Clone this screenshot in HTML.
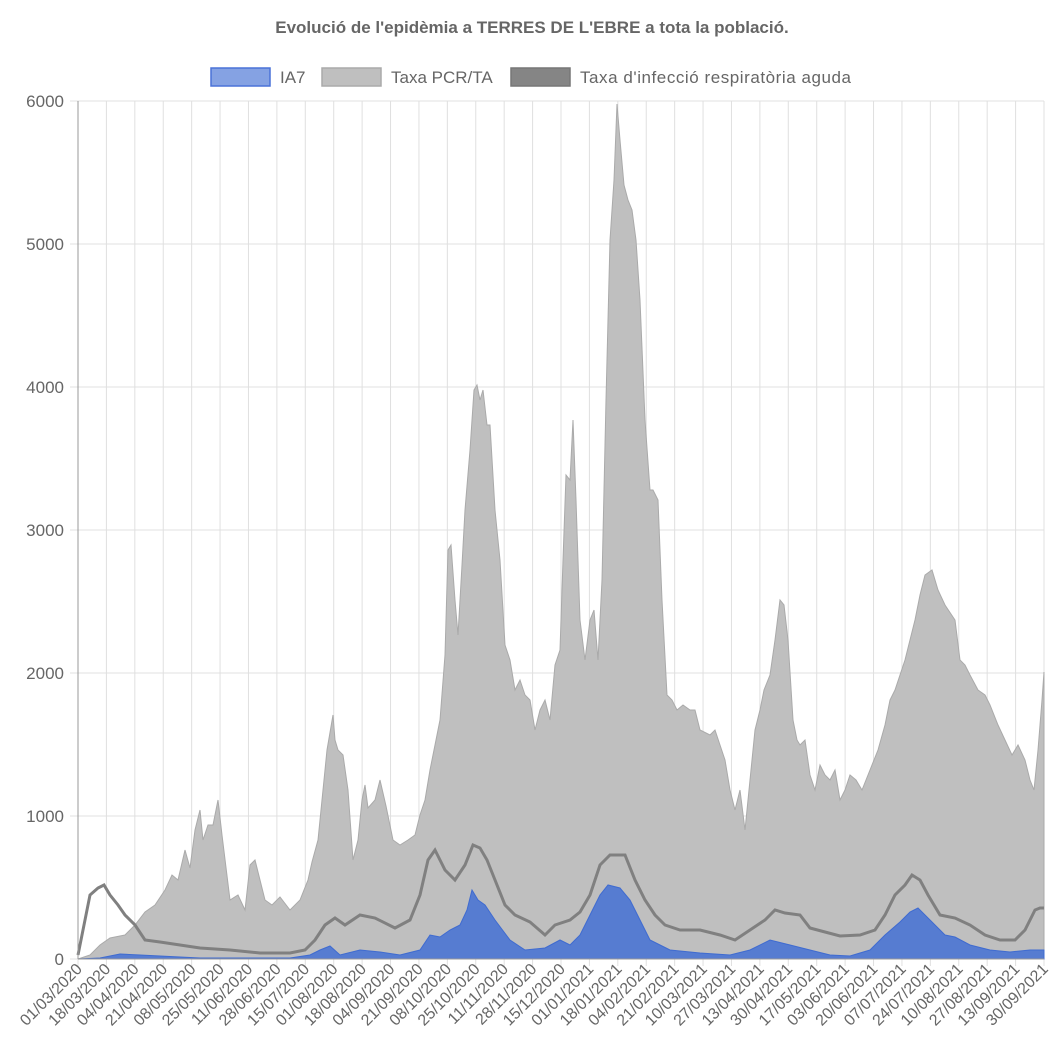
<!DOCTYPE html>
<html><head><meta charset="utf-8"><style>
body{margin:0;background:#fff;}
svg{display:block;font-family:"Liberation Sans",sans-serif;}
</style></head><body>
<svg id="s" width="1056" height="1062" xmlns="http://www.w3.org/2000/svg">
<text x="532" y="33" text-anchor="middle" font-size="17" font-weight="bold" fill="#666">Evolució de l'epidèmia a TERRES DE L'EBRE a tota la població.</text>
<rect x="211" y="68" width="59" height="18" fill="rgba(67,112,212,0.65)" stroke="#4a72d8" stroke-width="1.5"/>
<text x="280" y="83" font-size="17" fill="#666">IA7</text>
<rect x="322" y="68" width="59" height="18" fill="#bfbfbf" stroke="#aaa" stroke-width="1.5"/>
<text x="391" y="83" font-size="17" fill="#666">Taxa PCR/TA</text>
<rect x="511" y="68" width="59" height="18" fill="#858585" stroke="#777" stroke-width="1.5"/>
<text x="580" y="83" font-size="17" fill="#666" textLength="271">Taxa d'infecció respiratòria aguda</text>
<g id="grid"></g>
<polygon fill="#bfbfbf" stroke="#aaa" stroke-width="1" points="78,959 90,955 100,945 110,938 125,935 135,925 145,912 155,905 165,890 172,875 178,880 185,850 190,868 195,830 200,810 203,840 208,825 213,825 218,800 222,835 230,900 238,895 245,910 250,865 255,860 260,880 265,900 272,905 280,897 290,910 300,900 308,880 312,862 318,840 322,800 327,750 333,715 335,740 338,750 343,755 348,790 353,860 358,840 362,800 365,785 368,808 375,800 380,780 386,806 393,840 400,845 408,840 415,835 420,815 425,800 430,770 435,745 440,720 445,655 448,550 451,545 455,600 458,635 462,565 465,510 470,450 474,390 477,385 480,400 483,390 487,425 490,425 495,510 500,560 505,645 510,660 515,690 520,680 525,695 530,700 535,730 540,710 545,700 550,720 555,665 560,650 563,560 566,475 570,480 573,420 576,500 580,620 585,660 590,620 594,610 598,660 602,580 606,400 610,240 614,180 617,104 620,140 624,185 628,200 632,210 636,240 640,300 645,420 650,490 653,490 658,500 662,600 667,695 672,700 677,710 683,705 690,710 695,710 700,730 710,735 715,730 720,745 725,760 730,790 735,810 740,790 745,830 750,780 755,730 760,710 764,690 770,675 775,640 780,600 784,605 788,640 793,720 797,740 800,745 805,740 810,775 815,790 820,765 825,775 830,780 835,770 840,800 845,790 850,775 856,780 862,790 870,770 878,750 885,725 890,700 895,690 905,660 915,620 920,595 925,575 932,570 938,590 945,605 955,620 960,660 965,665 970,675 978,690 985,695 990,705 998,725 1005,740 1012,755 1018,745 1025,760 1030,780 1034,790 1038,750 1042,700 1044,672 1044,959"/>
<polygon fill="rgba(67,112,212,0.85)" stroke="#3f6bd0" stroke-width="1" points="78,959 100,958 120,954 140,955 200,958 290,958 310,955 320,950 330,946 340,955 360,950 380,952 400,955 420,950 430,935 440,937 450,930 460,925 467,910 472,890 478,900 485,905 495,920 510,940 525,950 545,948 560,940 570,945 580,935 590,915 600,895 608,885 620,888 630,900 640,920 650,940 670,950 700,953 730,955 750,950 770,940 790,945 810,950 830,955 850,956 870,950 885,935 900,922 910,912 918,908 930,920 945,935 955,937 970,945 990,950 1010,952 1030,950 1044,950 1044,959"/>
<polyline fill="none" stroke="#808080" stroke-width="3" points="78,955 85,920 90,895 98,888 104,885 110,895 118,905 125,915 135,925 145,940 160,942 180,945 200,948 230,950 260,953 290,953 305,950 315,940 325,925 335,918 345,925 360,915 375,918 395,928 410,920 420,895 428,860 435,850 445,870 455,880 465,865 473,845 480,848 487,860 495,880 505,905 515,915 530,922 545,935 555,925 570,920 580,912 590,895 600,865 610,855 625,855 635,880 645,900 655,915 665,925 680,930 700,930 720,935 735,940 750,930 765,920 775,910 785,913 800,915 810,928 825,932 840,936 860,935 875,930 885,915 895,895 905,885 912,875 920,880 928,895 940,915 955,918 970,925 985,935 1000,940 1015,940 1025,930 1035,910 1040,908 1044,908"/>
<line x1="78" y1="101" x2="78" y2="959" stroke="#999"/>
<line x1="78" y1="959" x2="1044" y2="959" stroke="#999"/>
<g id="lab" font-size="16" fill="#666"></g>
</svg>
<script>
var g=document.getElementById('grid'),l=document.getElementById('lab'),h='';
for(var i=0;i<=6;i++){var y=959-i*143;h+='<line x1="70" y1="'+y+'" x2="1044" y2="'+y+'" stroke="#e0e0e0"/>';}
for(var j=0;j<=34;j++){var x=78+j*966/34;h+='<line x1="'+x+'" y1="101" x2="'+x+'" y2="966" stroke="#e0e0e0"/>';}
g.innerHTML=h;var t='';
for(var i=0;i<=6;i++){t+='<text x="64" y="'+(965-i*143)+'" text-anchor="end" font-size="17">'+(i*1000)+'</text>';}
var d0=Date.UTC(2020,2,1);
for(var j=0;j<=34;j++){var d=new Date(d0+j*17*864e5);var s=('0'+d.getUTCDate()).slice(-2)+'/'+('0'+(d.getUTCMonth()+1)).slice(-2)+'/'+d.getUTCFullYear();var x=78+j*966/34+5;
t+='<text x="'+x+'" y="970" text-anchor="end" transform="rotate(-45 '+x+' 970)">'+s+'</text>';}
l.innerHTML=t;
</script>
</body></html>
